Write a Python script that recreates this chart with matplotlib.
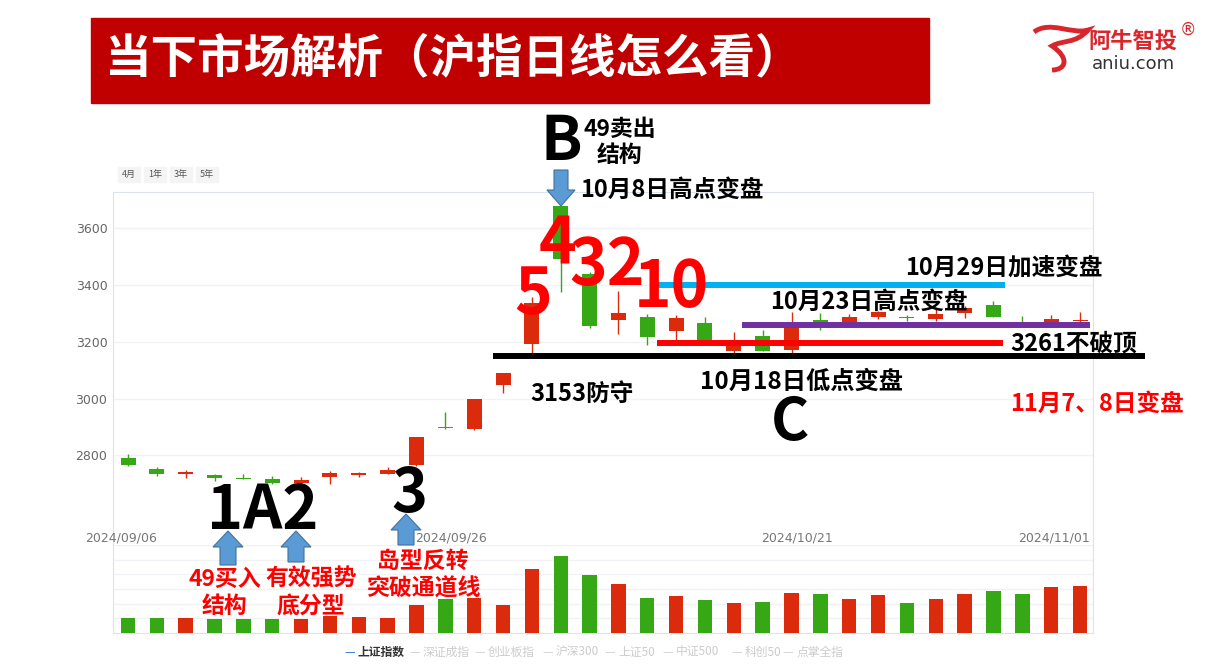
import numpy as np
import matplotlib
matplotlib.use('Agg')
from matplotlib import pyplot as plt
from matplotlib.patches import Rectangle, Polygon, PathPatch
from matplotlib.path import Path

plt.rcParams['font.family'] = ['Noto Sans CJK SC', 'DejaVu Sans']

# 上证指数 日线 2024/09/06 - 2024/11/01
dates = ['2024/09/06', '09/09', '09/10', '09/11', '09/12', '09/13', '09/18', '09/19', '09/20',
         '09/23', '09/24', '09/25', '2024/09/26', '09/27', '09/30', '10/08', '10/09', '10/10',
         '10/11', '10/14', '10/15', '10/16', '10/17', '10/18', '2024/10/21', '10/22', '10/23',
         '10/24', '10/25', '10/28', '10/29', '10/30', '10/31', '2024/11/01']
opens = [2790, 2752, 2734, 2730, 2721, 2716, 2701, 2722, 2732, 2734, 2766, 2900, 2892, 3048,
         3192, 3678, 3440, 3277, 3288, 3238, 3266, 3168, 3220, 3171, 3276, 3270, 3287, 3288,
         3281, 3302, 3330, 3275, 3270, 3272]
highs = [2805, 2759, 2748, 2733, 2734, 2727, 2724, 2746, 2742, 2758, 2863, 2954, 2999, 3089,
         3358, 3678, 3445, 3379, 3298, 3294, 3287, 3235, 3241, 3305, 3302, 3298, 3310, 3296,
         3319, 3325, 3343, 3291, 3294, 3305]
lows = [2764, 2727, 2720, 2710, 2716, 2700, 2689, 2698, 2722, 2734, 2762, 2893, 2889, 3018,
        3160, 3375, 3250, 3228, 3189, 3207, 3200, 3162, 3166, 3153, 3242, 3262, 3282, 3275,
        3275, 3285, 3287, 3268, 3265, 3262]
closes = [2766, 2734, 2742, 2721, 2716, 2701, 2713, 2737, 2737, 2748, 2863, 2897, 2998, 3089,
          3337, 3492, 3256, 3301, 3218, 3284, 3202, 3200, 3168, 3261, 3270, 3287, 3305, 3283,
          3298, 3319, 3287, 3272, 3280, 3276]
volumes = [3060, 3060, 3060, 2860, 2860, 2860, 2920, 3390, 3260, 3060, 5650, 6900, 7200, 5780,
           13120, 15650, 11900, 10000, 7140, 7480, 6800, 6120, 6330, 8160, 7890, 6940, 7750,
           6120, 7000, 8020, 8630, 7890, 9380, 9520]
# 最后一根是红K（图中显示）
up_flags = [c > o for o, c in zip(opens, closes)]
up_flags[-1] = True

date_ticks = ['2024/09/06', '2024/09/26', '2024/10/21', '2024/11/01']
price_ticks = [2800, 3000, 3200, 3400, 3600]
legend_names = ['上证指数', '深证成指', '创业板指', '沪深300', '上证50', '中证500', '科创50', '点掌全指']

W, H = 1220, 670
RED = '#dc2a0c'
GREEN = '#36a815'
FRAME = '#dde3ee'


def P(x, y):
    return (x / W, 1 - y / H)


fig = plt.figure(figsize=(W / 100, H / 100), dpi=100)
fig.patch.set_facecolor('white')

ax = fig.add_axes([113 / W, 1 - 545 / H, 980 / W, 353 / H])
axv = fig.add_axes([113 / W, 1 - 633 / H, 980 / W, 88 / H])

x = np.arange(len(dates))
cols = [RED if u else GREEN for u in up_flags]

# K线
for i in x:
    o, c = opens[i], closes[i]
    ax.vlines(i, lows[i], highs[i], color=cols[i], lw=1.0, zorder=2)
    lo, hi = min(o, c), max(o, c)
    ax.bar(i, max(hi - lo, 3), bottom=lo, width=0.52, color=cols[i], zorder=3)

ax.set_xlim(-0.52, 33.45)
ax.set_ylim(2484, 3728)
ax.set_yticks(price_ticks)
ax.set_yticklabels([str(v) for v in price_ticks], color='#666666', fontsize=9,
                   family='DejaVu Sans')
ax.tick_params(axis='y', length=0, pad=4)
ax.set_xticks([])
ax.grid(axis='y', color='#f1f2f5', lw=1, zorder=0)
for s in ax.spines.values():
    s.set_color(FRAME)
ax.spines['bottom'].set_visible(False)

# 日期标签
for d in date_ticks:
    i = dates.index(d)
    if i == len(dates) - 1:
        ax.text(i + 0.35, 2510, d, ha='right', va='center', fontsize=9, color='#777777',
                family='DejaVu Sans')
    elif i == 0:
        ax.text(i - 0.25, 2510, d, ha='center', va='center', fontsize=9, color='#777777',
                family='DejaVu Sans')
    else:
        ax.text(i - 0.8, 2510, d, ha='center', va='center', fontsize=9, color='#777777',
                family='DejaVu Sans')

# 成交量
axv.bar(x, volumes, width=0.5, color=cols, zorder=3)
axv.set_xlim(-0.52, 33.45)
axv.set_ylim(0, 18000)
axv.set_yticks(np.arange(3000, 18001, 3000))
axv.set_yticklabels([])
axv.set_xticks([])
axv.tick_params(length=0)
axv.grid(axis='y', color='#f1f2f5', lw=1, zorder=0)
for s in axv.spines.values():
    s.set_color(FRAME)
axv.spines['top'].set_visible(False)

# 关键价位线
ax.hlines(3400, 18.34, 30.4, color='#00b0f0', lw=4.3, zorder=5)
ax.hlines(3259, 21.3, 33.35, color='#7030a0', lw=4.3, zorder=5)
ax.hlines(3196, 18.34, 30.33, color='#ff0000', lw=4.3, zorder=5)
ax.hlines(3149, 12.65, 35.25, color='#000000', lw=4.3, zorder=5, clip_on=False)

# 标题
fig.patches.append(Rectangle(P(91, 103), 838 / W, 85 / H, transform=fig.transFigure,
                             color='#c00000', zorder=0))
fig.text(*P(104, 58), '当下市场解析（沪指日线怎么看）', color='white', fontsize=33.5,
         fontweight='bold', ha='left', va='center')

# logo
verts = [P(1034, 32), P(1050, 20), P(1072, 35), P(1088, 30),
         P(1076, 44), P(1062, 40), P(1052, 46),
         P(1070, 58), P(1066, 70), P(1052, 70)]
codes = [Path.MOVETO, Path.CURVE4, Path.CURVE4, Path.CURVE4,
         Path.CURVE4, Path.CURVE4, Path.CURVE4,
         Path.CURVE4, Path.CURVE4, Path.CURVE4]
fig.patches.append(PathPatch(Path(verts, codes), transform=fig.transFigure,
                             fc='none', ec='#d9262c', lw=3.5))
fig.text(*P(1133, 42), '阿牛智投', color='#d9262c', fontsize=16, fontweight='bold',
         ha='center', va='center')
fig.text(*P(1188, 30), '®', color='#d9262c', fontsize=12, ha='center', va='center',
         family='DejaVu Sans')
fig.text(*P(1133, 64), 'aniu.com', color='#333333', fontsize=13, ha='center', va='center',
         family='DejaVu Sans')

# 周期按钮
for bx, lab in zip([118, 144, 170, 196], ['4月', '1年', '3年', '5年']):
    fig.patches.append(Rectangle(P(bx, 182), 22 / W, 15 / H, transform=fig.transFigure,
                                 color='#f4f4f4', zorder=1))
    fig.text(*P(bx + 11, 174.5), lab, fontsize=6.5, color='#555555', ha='center', va='center')


def block_arrow(cx, tip, base, head_w, shaft_w, head_len, up=True):
    s = -1 if up else 1
    pts = [(cx, tip), (cx - head_w / 2, tip - s * head_len), (cx - shaft_w / 2, tip - s * head_len),
           (cx - shaft_w / 2, base), (cx + shaft_w / 2, base), (cx + shaft_w / 2, tip - s * head_len),
           (cx + head_w / 2, tip - s * head_len)]
    fig.patches.append(Polygon([P(px, py) for px, py in pts], closed=True,
                               transform=fig.transFigure, fc='#5b9bd5', ec='#41719c',
                               lw=0.8, zorder=6))


block_arrow(561, 206, 170, 28, 14, 16, up=False)
block_arrow(228, 531, 565, 30, 16, 16)
block_arrow(296, 531, 562, 30, 16, 16)
block_arrow(406, 514, 545, 30, 16, 16)


def label(x0, y0, s, color='black', size=17, ha='center'):
    fig.text(*P(x0, y0), s, color=color, fontsize=size, fontweight='bold',
             ha=ha, va='center', zorder=10)


# 黑色注释
label(561, 142, 'B', size=44)
label(620, 129, '49卖出', size=16.5)
label(620, 155, '结构', size=16.5)
label(580, 190, '10月8日高点变盘', size=17, ha='left')
label(905, 268, '10月29日加速变盘', size=17, ha='left')
label(770, 302, '10月23日高点变盘', size=17, ha='left')
label(1010, 344, '3261不破顶', size=17, ha='left')
label(530, 394, '3153防守', size=17, ha='left')
label(700, 382, '10月18日低点变盘', size=17.5, ha='left')
label(790, 423, 'C', size=42)
label(263, 511, '1A2', size=44)
label(409, 494, '3', size=44)

# 红色注释
label(533, 295, '5', color='#ff0000', size=46)
label(558, 245, '4', color='#ff0000', size=46)
label(607, 266, '32', color='#ff0000', size=46)
label(671, 288, '10', color='#ff0000', size=46)
label(1010, 404, '11月7、8日变盘', color='#ff0000', size=17, ha='left')
label(225, 579, '49买入', color='#ff0000', size=16.5)
label(225, 606, '结构', color='#ff0000', size=16.5)
label(311, 579, '有效强势', color='#ff0000', size=16.5)
label(311, 606, '底分型', color='#ff0000', size=16.5)
label(423, 561, '岛型反转', color='#ff0000', size=16.5)
label(424, 589, '突破通道线', color='#ff0000', size=16.5)

# 底部图例
leg_x = [345, 410, 475, 543, 605, 663, 732, 783]
for i, (lx, name) in enumerate(zip(leg_x, legend_names)):
    c_line = '#3b7ddd' if i == 0 else '#d6d6d6'
    c_txt = '#333333' if i == 0 else '#cccccc'
    fig.text(*P(lx, 652), '— ', color=c_line, fontsize=8.5, ha='left', va='center')
    fig.text(*P(lx + 13, 652), name, color=c_txt, fontsize=8.5, ha='left', va='center',
             fontweight='bold' if i == 0 else 'normal')

plt.savefig('out.png', dpi=100)
